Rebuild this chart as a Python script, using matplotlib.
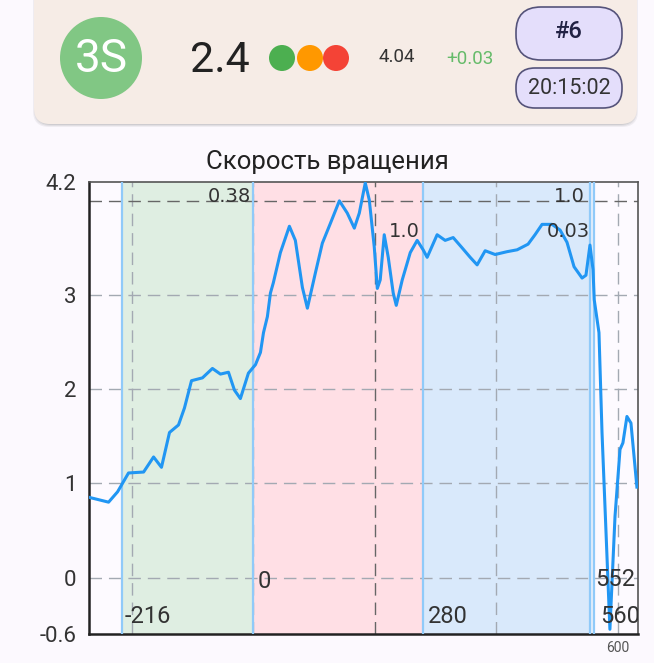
import numpy as np
import matplotlib
matplotlib.use("Agg")
import matplotlib.pyplot as plt
from matplotlib.patches import FancyBboxPatch, Circle

plt.rcParams['font.family'] = ['Roboto', 'DejaVu Sans']

# curve
pos = [165.5, 181.1, 188.5, 197.5, 209.9, 218.1, 224.6, 231.2, 238.6, 243.5,
       249.3, 258.3, 266.5, 273.1, 279.7, 284.6, 289.5, 296.1, 301.9, 306.0,
       308.5, 311.7, 314.2, 316.6, 322.4, 329.8, 334.7, 340.5, 344.6, 351.1,
       356.9, 363.5, 370.9, 377.4, 383.2, 387.3, 392.2, 395.5, 399.6, 402.1,
       404.5, 407.8, 411.1, 415.2, 417.7, 422.6, 429.2, 434.9, 439.8, 443.1,
       451.3, 457.9, 464.5, 471.9, 478.5, 484.2, 490.8, 499.0, 508.8, 517.1,
       526.1, 531.8, 537.6, 545.8, 552.4, 558.1, 563.9, 570.5, 573.7, 577.0,
       579.5, 580.5, 584.4, 586.9, 593.4, 597.6, 601.7, 604.1, 607.4, 610.7,
       615.6]
speed = [0.85, 0.80, 0.91, 1.11, 1.12, 1.28, 1.17, 1.54, 1.62, 1.80,
         2.09, 2.12, 2.22, 2.16, 2.18, 1.99, 1.90, 2.17, 2.26, 2.39,
         2.60, 2.77, 3.02, 3.13, 3.45, 3.73, 3.58, 3.08, 2.86, 3.23,
         3.55, 3.76, 4.00, 3.87, 3.71, 3.87, 4.19, 4.01, 3.51, 3.07,
         3.16, 3.64, 3.40, 3.02, 2.89, 3.16, 3.45, 3.58, 3.48, 3.40,
         3.64, 3.58, 3.61, 3.50, 3.40, 3.32, 3.47, 3.43, 3.46, 3.48,
         3.54, 3.64, 3.75, 3.75, 3.69, 3.56, 3.30, 3.18, 3.21, 3.53,
         3.27, 2.95, 2.60, 1.54, -0.55, 0.65, 1.36, 1.43, 1.71, 1.64,
         0.96]

# phases
bounds = [192, 300, 440, 577, 580.3]
span_colors = ['#DFEEE2', '#FFDFE5', '#D9E9FB', '#E6EFFB']

top_notes = ['0.38', '1.0', '1.0', '0.03']
top_x = [298, 437, 573, 577]
top_y = [4.05, 3.67, 4.05, 3.67]
bot_notes = ['-216', '0', '280', '552', '560']
bot_x = [194, 303.5, 444, 581, 585]
bot_y = [-0.41, -0.04, -0.41, -0.02, -0.41]

grid_y = [0, 1, 2, 3]
grid_x = [200, 300, 500, 600]
mark_x = 400
mark_y = 4.0

yticks = [4.2, 3, 2, 1, 0, -0.6]
ytick_labels = ['4.2', '3', '2', '1', '0', '-0.6']

fig = plt.figure(figsize=(6.54, 6.63), dpi=100)
fig.patch.set_facecolor('#FCF9FE')

# header card
hd = fig.add_axes([0, 0, 1, 1], zorder=0)
hd.set_xlim(0, 654)
hd.set_ylim(663, 0)
hd.axis('off')
for i, a in enumerate([0.05, 0.06, 0.08]):
    hd.add_patch(FancyBboxPatch((34 - 1 + i, -30), 603 + 2 - 2 * i, 157 - i,
                                boxstyle="round,pad=0,rounding_size=16",
                                fc='#000000', ec='none', alpha=a))
hd.add_patch(FancyBboxPatch((34, -30), 603, 154,
                            boxstyle="round,pad=0,rounding_size=16",
                            fc='#F6ECE6', ec='none'))
hd.add_patch(Circle((101, 58), 41, fc='#81C784', ec='none'))
hd.text(101, 59, '3S', color='white', fontsize=33, ha='center', va='center')
hd.text(190, 60, '2.4', color='#222222', fontsize=31, ha='left', va='center')
for cx, c in zip([282, 310, 336], ['#4CAF50', '#FF9800', '#F44336']):
    hd.add_patch(Circle((cx, 58), 13, fc=c, ec='none'))
hd.text(379, 57, '4.04', color='#333333', fontsize=13.5, ha='left', va='center')
hd.text(446, 59, '+0.03', color='#66BB6A', fontsize=13.5, ha='left', va='center')
hd.add_patch(FancyBboxPatch((516, 7), 106, 53, boxstyle="round,pad=0,rounding_size=25",
                            fc='#E4DEFB', ec='#55537A', lw=1.2))
hd.text(569, 31, '#6', color='#222244', fontsize=17, ha='center', va='center',
        weight='medium')
hd.add_patch(FancyBboxPatch((516, 68), 106, 40, boxstyle="round,pad=0,rounding_size=19",
                            fc='#E4DEFB', ec='#55537A', lw=1.2))
hd.text(569, 88, '20:15:02', color='#333333', fontsize=15.5, ha='center', va='center')

# chart
ax = fig.add_axes([89 / 654, 29 / 663, 549 / 654, 452 / 663], zorder=1)
ax.set_facecolor('#FDFAFF')
ax.set_xlim(165, 616.5)
ax.set_ylim(-0.6, 4.2)

for i in range(len(span_colors)):
    ax.axvspan(bounds[i], bounds[i + 1], color=span_colors[i], lw=0, zorder=1)

for gy in grid_y:
    ax.axhline(gy, color='#A3A9B2', lw=1, ls=(0, (9, 5)), zorder=2)
for gx in grid_x:
    ax.axvline(gx, color='#A3A9B2', lw=1, ls=(0, (9, 5)), zorder=2)
ax.axhline(mark_y, color='#666666', lw=1, ls=(0, (9, 5)), zorder=2)
ax.axvline(mark_x, color='#666666', lw=1, ls=(0, (9, 5)), zorder=2)

for b in bounds:
    ax.axvline(b, color='#90CAF9', lw=1.6, zorder=3)

ax.plot(pos, speed, color='#2196F3', lw=2.2, zorder=4, solid_joinstyle='round')

for t, x, y in zip(top_notes, top_x, top_y):
    ax.text(x, y, t, fontsize=14, color='#333333', ha='right', va='center',
            zorder=5, family='DejaVu Sans')
for t, x, y in zip(bot_notes, bot_x, bot_y):
    ax.text(x, y, t, fontsize=17, color='#333333', ha='left', va='center',
            zorder=5, clip_on=True)

ax.set_yticks(yticks)
ax.set_yticklabels(ytick_labels, fontsize=16, color='#333333')
ax.set_xticks([600])
ax.set_xticklabels(['600'], fontsize=10, color='#555555')
ax.tick_params(length=0, pad=9)
ax.tick_params(axis='x', pad=5)

for s in ['left', 'bottom']:
    ax.spines[s].set_color('#222222')
    ax.spines[s].set_linewidth(1.8)
for s in ['top', 'right']:
    ax.spines[s].set_color('#555555')
    ax.spines[s].set_linewidth(1.2)

fig.text(0.5, (663 - 162) / 663, 'Скорость вращения', fontsize=18.5,
         color='#222222', ha='center', va='center')

fig.savefig('out.png', dpi=100, facecolor=fig.get_facecolor())
